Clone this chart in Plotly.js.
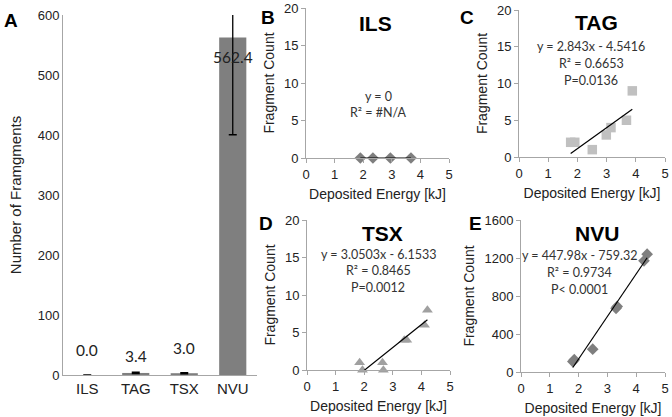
<!DOCTYPE html>
<html>
<head>
<meta charset="utf-8">
<script src="https://cdn.plot.ly/plotly-3.0.1.min.js"></script>
<style>html,body{margin:0;padding:0;background:#fff;}#chart{width:672px;height:417px;}</style>
</head>
<body>
<div id="chart"></div>
<script>
// ---- Data ----
var barCategories = ['ILS', 'TAG', 'TSX', 'NVU'];
var barMeans = [0.0, 3.4, 3.0, 562.4];
var barErrors = [0, 1.2, 1.0, 162];

var ilsEnergy = [1.90, 2.34, 2.95, 3.67];
var ilsCount = [0, 0, 0, 0];
var ilsFit = [0, 0]; // slope, intercept

var tagEnergy = [1.77, 1.91, 2.51, 2.99, 3.15, 3.68, 3.88];
var tagCount = [2, 2, 1, 3, 4, 5, 9];
var tagFit = [2.843, -4.5416];

var tsxEnergy = [1.84, 1.94, 2.64, 2.67, 3.40, 3.49, 4.11, 4.21];
var tsxCount = [1, 0, 1, 0, 4, 4, 6, 8];
var tsxFit = [3.0503, -6.1533];

var nvuEnergy = [1.80, 1.85, 2.49, 3.30, 3.34, 4.27, 4.38];
var nvuCount = [110, 130, 240, 670, 690, 1170, 1240];
var nvuFit = [447.98, -759.32];

var panelTitles = ['ILS', 'TAG', 'TSX', 'NVU'];
var equations = [
  ['y = 0', 'R\u00b2 = #N/A'],
  ['y = 2.843x - 4.5416', 'R\u00b2 = 0.6653', 'P=0.0136'],
  ['y = 3.0503x - 6.1533', 'R\u00b2 = 0.8465', 'P=0.0012'],
  ['y = 447.98x - 759.32', 'R\u00b2 = 0.9734', 'P< 0.0001']
];

// ---- Helpers ----
var W = 672, H = 417;
function px(x) { return x / W; }
function py(y) { return 1 - y / H; }
function fitLine(xs, fit, xa, ya) {
  var lo = Math.min.apply(null, xs), hi = Math.max.apply(null, xs);
  return {
    x: [lo, hi], y: [fit[0] * lo + fit[1], fit[0] * hi + fit[1]],
    xaxis: xa, yaxis: ya, mode: 'lines', type: 'scatter',
    line: {color: '#000', width: 1.2}, hoverinfo: 'skip', showlegend: false
  };
}

var axisColor = '#a6a6a6';
var tickFont = {family: 'Liberation Sans, Arial, sans-serif', size: 13, color: '#222'};
var titleFont = {family: 'Liberation Sans, Arial, sans-serif', size: 14, color: '#222'};
var eqFont = {family: 'Lato, Open Sans, sans-serif', size: 12.5, color: '#333'};

var traces = [
  {
    type: 'bar', x: barCategories, y: barMeans, xaxis: 'x', yaxis: 'y',
    marker: {color: '#7f7f7f'},
    error_y: {type: 'data', array: barErrors, visible: true, color: '#000', thickness: 1.3, width: 4},
    showlegend: false
  },
  {
    type: 'scatter', mode: 'markers', x: ilsEnergy, y: ilsCount, xaxis: 'x2', yaxis: 'y2',
    marker: {symbol: 'diamond', size: 9, color: '#7f7f7f'}, showlegend: false, cliponaxis: false
  },
  fitLine(ilsEnergy, ilsFit, 'x2', 'y2'),
  {
    type: 'scatter', mode: 'markers', x: tagEnergy, y: tagCount, xaxis: 'x3', yaxis: 'y3',
    marker: {symbol: 'square', size: 9.5, color: '#c0c0c0'}, showlegend: false, cliponaxis: false
  },
  fitLine(tagEnergy, tagFit, 'x3', 'y3'),
  {
    type: 'scatter', mode: 'markers', x: tsxEnergy, y: tsxCount, xaxis: 'x4', yaxis: 'y4',
    marker: {symbol: 'triangle-up', size: 9.5, color: '#a0a0a0'}, showlegend: false, cliponaxis: false
  },
  fitLine(tsxEnergy, tsxFit, 'x4', 'y4'),
  {
    type: 'scatter', mode: 'markers', x: nvuEnergy, y: nvuCount, xaxis: 'x5', yaxis: 'y5',
    marker: {symbol: 'diamond', size: 9, color: '#7f7f7f'}, showlegend: false, cliponaxis: false
  },
  fitLine(nvuEnergy, nvuFit, 'x5', 'y5')
];

function xEnergyAxis(domain, anchor) {
  return {
    domain: domain, anchor: anchor, range: [0, 5], dtick: 1, tick0: 0,
    showgrid: false, zeroline: false, showline: true, linecolor: axisColor, linewidth: 1,
    ticks: 'outside', ticklen: 4, tickcolor: axisColor, tickfont: tickFont,
    title: {text: 'Deposited Energy [kJ]', font: titleFont, standoff: 8}
  };
}
function yCountAxis(domain, anchor, range, dtick) {
  return {
    domain: domain, anchor: anchor, range: range, dtick: dtick, tick0: 0,
    showgrid: false, zeroline: false, showline: true, linecolor: axisColor, linewidth: 1,
    ticks: 'outside', ticklen: 4, tickcolor: axisColor, tickfont: tickFont,
    title: {text: 'Fragment Count', font: titleFont, standoff: 6}
  };
}

var layout = {
  width: W, height: H,
  margin: {l: 0, r: 0, t: 0, b: 0},
  paper_bgcolor: '#fff', plot_bgcolor: 'rgba(0,0,0,0)',
  showlegend: false,
  bargap: 0.44,
  xaxis: {
    domain: [px(63), px(257)], anchor: 'y',
    showgrid: false, zeroline: false, showline: true, linecolor: axisColor, linewidth: 1,
    ticks: '', tickfont: {family: 'Liberation Sans, Arial, sans-serif', size: 15, color: '#222'}
  },
  yaxis: {
    domain: [py(375), py(15)], anchor: 'x', range: [0, 600], dtick: 100,
    showgrid: false, zeroline: false, showline: true, linecolor: axisColor, linewidth: 1,
    ticks: '', tickfont: tickFont,
    title: {text: 'Number of Framgments', font: {family: 'Liberation Sans, Arial, sans-serif', size: 15, color: '#222'}, standoff: 12}
  },
  xaxis2: xEnergyAxis([px(306), px(449)], 'y2'),
  yaxis2: yCountAxis([py(158), py(8)], 'x2', [0, 20], 5),
  xaxis3: xEnergyAxis([px(519), px(665)], 'y3'),
  yaxis3: yCountAxis([py(157), py(10)], 'x3', [0, 20], 5),
  xaxis4: xEnergyAxis([px(307), px(450)], 'y4'),
  yaxis4: yCountAxis([py(370), py(220)], 'x4', [0, 20], 5),
  xaxis5: xEnergyAxis([px(521), px(665)], 'y5'),
  yaxis5: yCountAxis([py(372), py(220)], 'x5', [0, 1600], 400),
  annotations: []
};

// bar value labels
var barLabelShift = [14, 6, 14, -30];
barCategories.forEach(function (c, i) {
  layout.annotations.push({
    x: c, y: barMeans[i], xref: 'x', yref: 'y', text: barMeans[i].toFixed(1),
    showarrow: false, yanchor: 'bottom', yshift: barLabelShift[i],
    font: {family: 'Lato, Open Sans, sans-serif', size: 15.5, color: '#222'}
  });
});

// panel letters
var letters = [['A', 11, 20], ['B', 268, 18], ['C', 467, 18], ['D', 266, 223], ['E', 475, 223]];
letters.forEach(function (l) {
  layout.annotations.push({
    x: px(l[1]), y: py(l[2]), xref: 'paper', yref: 'paper', text: '<b>' + l[0] + '</b>',
    showarrow: false, xanchor: 'center', yanchor: 'middle',
    font: {family: 'Liberation Sans, Arial, sans-serif', size: 19, color: '#000'}
  });
});

// panel titles
var titlePos = [[375, 24], [596, 22], [382, 233], [597, 233]];
panelTitles.forEach(function (t, i) {
  layout.annotations.push({
    x: px(titlePos[i][0]), y: py(titlePos[i][1]), xref: 'paper', yref: 'paper',
    text: '<b>' + t + '</b>', showarrow: false, xanchor: 'center', yanchor: 'middle',
    font: {family: 'Liberation Sans, Arial, sans-serif', size: 21, color: '#000'}
  });
});

// equations
var eqPos = [[378, 96], [591, 47], [378, 254], [579, 256]];
equations.forEach(function (lines, i) {
  lines.forEach(function (s, j) {
    layout.annotations.push({
      x: px(eqPos[i][0]), y: py(eqPos[i][1] + j * 16.5), xref: 'paper', yref: 'paper',
      text: s, showarrow: false, xanchor: 'center', yanchor: 'middle', font: eqFont
    });
  });
});

Plotly.newPlot('chart', traces, layout, {displayModeBar: false, staticPlot: true});
</script>
</body>
</html>
